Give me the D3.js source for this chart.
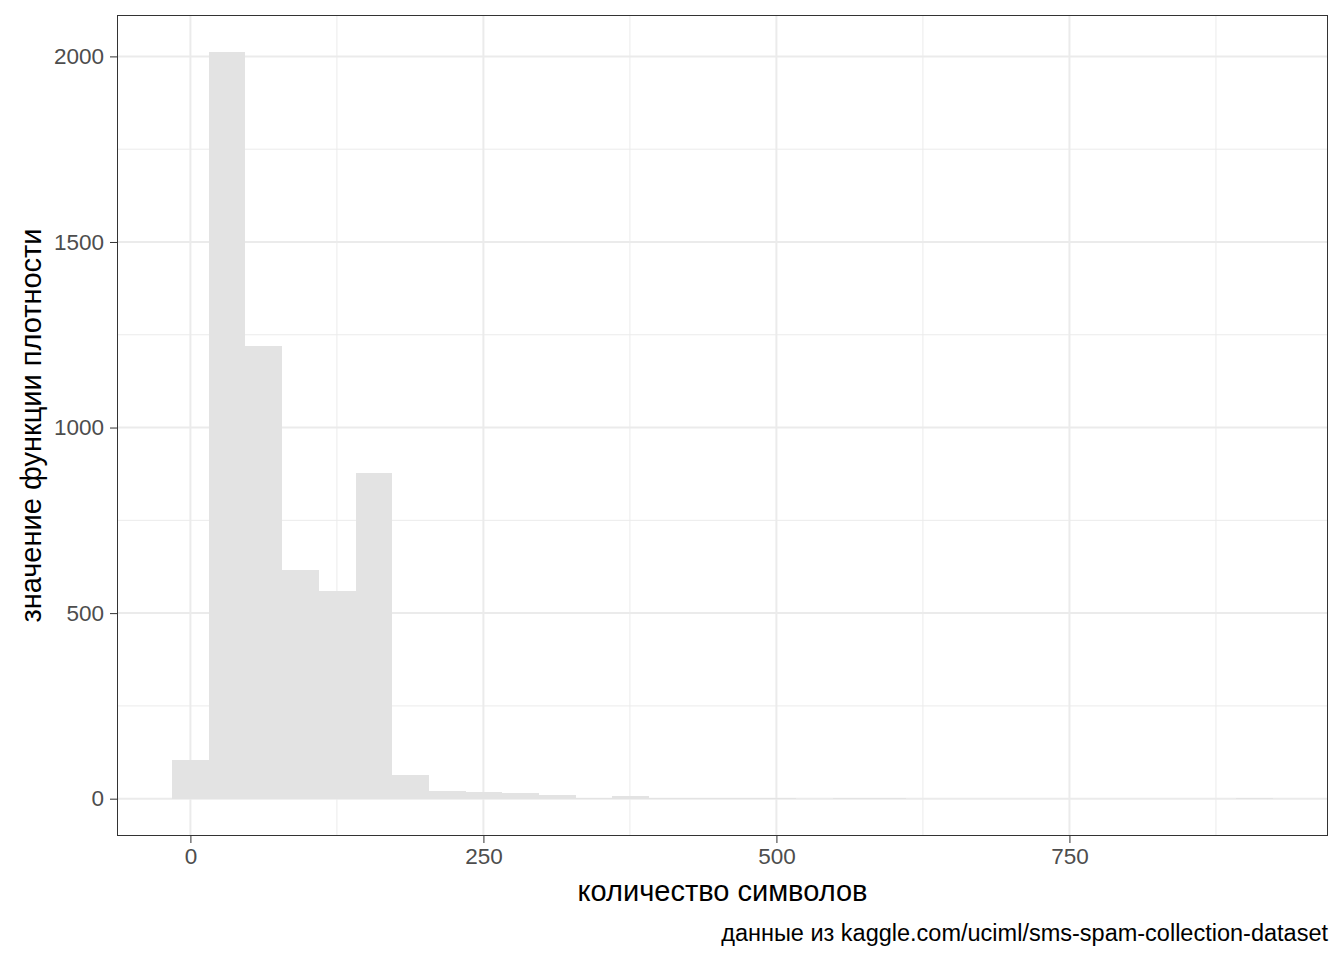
<!DOCTYPE html>
<html>
<head>
<meta charset="utf-8">
<script src="https://cdn.jsdelivr.net/npm/d3@7"></script>
<style>
  body { margin: 0; background: #fff; }
  svg text { font-family: "Liberation Sans", Arial, sans-serif; }
</style>
</head>
<body>
<div id="canvas"></div>
<script>
// --- data (bin centres, counts)
var binWidth = 31.31;
var binCenters = d3.range(30).map(function(i){ return i * binWidth; });
var counts = [105, 2011, 1219, 616, 560, 877, 65, 22, 19, 16,
              11, 3, 6, 2, 3, 1, 1, 0, 1, 1,
              0, 0, 0, 0, 0, 0, 0, 0, 0, 1];
var xTicks = [0, 250, 500, 750];
var xMinor = [125, 375, 625, 875];
var yTicks = [0, 500, 1000, 1500, 2000];
var yMinor = [250, 750, 1250, 1750];
var xTitle = 'количество символов';
var yTitle = 'значение функции плотности';
var caption = 'данные из kaggle.com/uciml/sms-spam-collection-dataset';

// --- margins
var W = 1344, H = 960;
var M = {top: 15, right: 16, bottom: 124, left: 117};
var w = W - M.left - M.right,
    h = H - M.top - M.bottom;

var svg = d3.select('#canvas').append('svg')
    .attr('width', W).attr('height', H);

var plot = svg.append('g')
    .attr('transform', 'translate(' + M.left + ',' + M.top + ')');

// --- scales (ggplot 5% expansion)
var xLo = binCenters[0] - binWidth / 2,
    xHi = binCenters[29] + binWidth / 2;
var xPad = (xHi - xLo) * 0.05;
var x = d3.scaleLinear().domain([xLo - xPad, xHi + xPad]).range([0, w]);

var yMax = d3.max(counts);
var y = d3.scaleLinear().domain([-yMax * 0.05, yMax * 1.05]).range([h, 0]);

// --- grid
plot.selectAll('.xminor').data(xMinor).enter().append('line')
    .attr('x1', x).attr('x2', x).attr('y1', 0).attr('y2', h)
    .attr('stroke', '#EBEBEB').attr('stroke-width', 1);
plot.selectAll('.yminor').data(yMinor).enter().append('line')
    .attr('y1', y).attr('y2', y).attr('x1', 0).attr('x2', w)
    .attr('stroke', '#EBEBEB').attr('stroke-width', 1);
plot.selectAll('.xmajor').data(xTicks).enter().append('line')
    .attr('x1', x).attr('x2', x).attr('y1', 0).attr('y2', h)
    .attr('stroke', '#EBEBEB').attr('stroke-width', 2);
plot.selectAll('.ymajor').data(yTicks).enter().append('line')
    .attr('y1', y).attr('y2', y).attr('x1', 0).attr('x2', w)
    .attr('stroke', '#EBEBEB').attr('stroke-width', 2);

// --- bars
plot.selectAll('.bar').data(counts).enter().append('rect')
    .attr('x', function(d, i){ return x(binCenters[i] - binWidth / 2); })
    .attr('width', function(d, i){ return x(binCenters[i] + binWidth / 2) - x(binCenters[i] - binWidth / 2); })
    .attr('y', function(d){ return y(d); })
    .attr('height', function(d){ return y(0) - y(d); })
    .attr('fill', '#E3E3E3')
    .attr('shape-rendering', 'crispEdges');

// --- border
plot.append('rect')
    .attr('x', 0.5).attr('y', 0.5).attr('width', w - 1).attr('height', h - 1)
    .attr('fill', 'none').attr('stroke', '#333333').attr('stroke-width', 1);

// --- axes
var xAxis = plot.append('g')
    .attr('transform', 'translate(0,' + h + ')')
    .call(d3.axisBottom(x).tickValues(xTicks).tickFormat(d3.format('d')).tickSize(7).tickPadding(5));
var yAxis = plot.append('g')
    .call(d3.axisLeft(y).tickValues(yTicks).tickFormat(d3.format('d')).tickSize(7).tickPadding(6));

[xAxis, yAxis].forEach(function(a){
  a.select('.domain').remove();
  a.selectAll('.tick line').attr('stroke', '#333333').attr('stroke-width', 1);
  a.selectAll('.tick text')
    .attr('fill', '#4D4D4D')
    .style('font-size', '22.5px')
    .style('font-family', '"Liberation Sans", Arial, sans-serif');
});

// --- titles
svg.append('text')
    .attr('x', M.left + w / 2).attr('y', 901)
    .attr('text-anchor', 'middle')
    .style('font-size', '29px')
    .attr('fill', '#000')
    .text(xTitle);

svg.append('text')
    .attr('transform', 'translate(41,' + (M.top + h / 2) + ') rotate(-90)')
    .attr('text-anchor', 'middle')
    .style('font-size', '29px')
    .attr('fill', '#000')
    .text(yTitle);

svg.append('text')
    .attr('x', M.left + w).attr('y', 941)
    .attr('text-anchor', 'end')
    .style('font-size', '23.5px')
    .attr('fill', '#000')
    .text(caption);
</script>
</body>
</html>
